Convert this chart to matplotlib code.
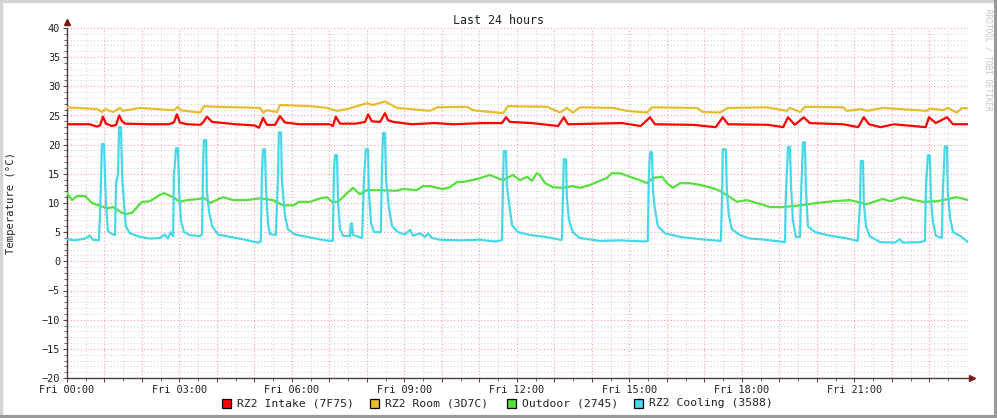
import matplotlib.pyplot as plt
from matplotlib.patches import Rectangle
from matplotlib.lines import Line2D
import numpy as np

# Datos (horas desde Fri 00:00, temperatura en C)
nombres = ['RZ2 Intake (7F75)', 'RZ2 Room (3D7C)', 'Outdoor (2745)', 'RZ2 Cooling (3588)']
colores = ['#ff0000', '#e6bd2a', '#56e03e', '#46d8e8']

intake_t = [0.00, 0.60, 0.80, 0.88, 0.96, 1.04, 1.20, 1.31, 1.39, 1.47, 1.55, 2.20, 2.70, 2.85, 2.93,
            3.01, 3.20, 3.55, 3.63, 3.73, 3.87, 4.50, 5.00, 5.12, 5.23, 5.33, 5.55, 5.68, 5.81, 6.20,
            7.00, 7.09, 7.17, 7.28, 7.70, 7.95, 8.03, 8.13, 8.35, 8.48, 8.56, 8.70, 9.20, 9.80, 10.30,
            11.10, 11.60, 11.71, 11.81, 12.40, 13.10, 13.25, 13.36, 14.80, 15.30, 15.55, 15.68, 16.70,
            17.30, 17.49, 17.63, 18.70, 19.10, 19.23, 19.41, 19.65, 19.81, 20.70, 21.10, 21.25, 21.39,
            21.70, 22.05, 22.90, 22.99, 23.17, 23.47, 23.63, 24.03]
intake_v = [23.5, 23.5, 23.1, 23.3, 24.8, 23.6, 23.2, 23.4, 25.0, 24.0, 23.6, 23.5, 23.5, 23.8, 25.2,
            23.8, 23.5, 23.4, 23.8, 24.8, 23.9, 23.5, 23.3, 22.9, 24.6, 23.4, 23.4, 24.9, 23.8, 23.5,
            23.5, 23.2, 24.8, 23.6, 23.6, 23.9, 25.2, 24.0, 23.9, 25.4, 24.2, 23.9, 23.5, 23.7, 23.5,
            23.7, 23.7, 24.7, 23.9, 23.7, 23.2, 24.7, 23.5, 23.7, 23.2, 24.7, 23.5, 23.4,
            23.0, 24.7, 23.5, 23.4, 23.0, 24.7, 23.4, 24.7, 23.7, 23.5, 23.0, 24.7, 23.5,
            23.0, 23.5, 23.0, 24.7, 23.7, 24.7, 23.5, 23.5]

room_t = [0.00, 0.80, 0.93, 1.01, 1.23, 1.41, 1.49, 1.95, 2.85, 2.96, 3.04, 3.55, 3.65, 4.00, 5.15,
          5.23, 5.33, 5.60, 5.68, 6.50, 6.93, 7.20, 7.47, 8.00, 8.16, 8.48, 8.80, 9.68, 9.87, 10.67,
          10.83, 11.63, 11.76, 12.80, 13.15, 13.33, 13.49, 13.68, 14.56, 14.93, 15.47, 15.60, 16.80,
          16.96, 17.41, 17.63, 18.66, 19.20, 19.28, 19.55, 19.68, 20.70, 20.80, 21.20, 21.33, 21.76,
          22.93, 23.01, 23.36, 23.49, 23.73, 23.87, 24.03]
room_v = [26.4, 26.1, 25.6, 26.1, 25.6, 26.3, 25.8, 26.3, 25.9, 26.5, 25.9, 25.5, 26.6, 26.5, 26.3,
          25.5, 25.9, 25.6, 26.8, 26.6, 26.3, 25.8, 26.1, 27.1, 26.8, 27.4, 26.3, 25.8, 26.4, 26.5,
          25.9, 25.4, 26.6, 26.5, 25.5, 26.3, 25.5, 26.4, 26.3, 25.8, 25.5, 26.4, 26.3,
          25.6, 25.5, 26.3, 26.4, 25.8, 26.3, 25.6, 26.5, 26.4, 25.8, 26.1, 25.8, 26.3,
          25.8, 26.2, 25.9, 26.3, 25.5, 26.3, 26.2]

outdoor_t = [0.00, 0.13, 0.27, 0.48, 0.67, 0.88, 1.07, 1.23, 1.47, 1.55, 1.73, 2.00, 2.21, 2.48, 2.59,
             2.83, 3.01, 3.20, 3.55, 3.63, 3.81, 4.16, 4.43, 4.80, 5.15, 5.49, 5.76, 6.03, 6.19, 6.48,
             6.75, 6.93, 7.07, 7.23, 7.47, 7.63, 7.81, 8.00, 8.35, 8.80, 8.96, 9.33, 9.49, 9.68, 9.87,
             10.03, 10.21, 10.40, 10.56, 10.93, 11.28, 11.47, 11.63, 11.89, 12.08, 12.27, 12.40, 12.53,
             12.61, 12.75, 12.96, 13.23, 13.49, 13.68, 13.95, 14.21, 14.40, 14.53, 14.75, 15.01, 15.20,
             15.47, 15.63, 15.87, 16.00, 16.16, 16.35, 16.61, 16.88, 17.15, 17.41, 17.68, 17.87, 18.13,
             18.40, 18.75, 19.09, 19.55, 20.00, 20.43, 20.88, 21.33, 21.76, 21.95, 22.29, 22.48, 22.83,
             23.20, 23.36, 23.73, 24.03]
outdoor_v = [11.7, 10.5, 11.2, 11.2, 10.0, 9.5, 9.1, 9.3, 8.3, 8.1, 8.3, 10.2, 10.3, 11.4, 11.7,
             11.0, 10.2, 10.5, 10.7, 11.0, 10.0, 11.0, 10.5, 10.5, 10.8, 10.5, 9.6, 9.6, 10.2, 10.2,
             10.8, 11.0, 10.2, 10.2, 11.7, 12.6, 11.5, 12.2, 12.2, 12.1, 12.4, 12.2, 12.9, 12.9, 12.6,
             12.4, 12.7, 13.6, 13.6, 14.1, 14.8, 14.3, 13.9, 14.8, 13.9, 14.5, 13.8, 15.1,
             14.8, 13.4, 12.7, 12.6, 12.9, 12.6, 13.1, 13.8, 14.3, 15.1, 15.1, 14.5, 14.1,
             13.4, 14.3, 14.5, 13.4, 12.6, 13.4, 13.4, 13.1, 12.7, 12.1, 11.0, 10.2, 10.5,
             10.0, 9.3, 9.3, 9.6, 10.0, 10.3, 10.5, 9.8, 10.7, 10.3, 11.0, 10.7, 10.2,
             10.3, 10.5, 11.0, 10.5]

cooling_t = [0.00, 0.21, 0.48, 0.61, 0.69, 0.85, 0.88, 0.91, 0.93, 0.99, 1.01, 1.04, 1.09, 1.20, 1.28,
             1.31, 1.36, 1.39, 1.44, 1.47, 1.52, 1.57, 1.68, 1.95, 2.21, 2.48, 2.61, 2.69, 2.77, 2.83,
             2.85, 2.91, 2.96, 2.99, 3.04, 3.12, 3.28, 3.55, 3.60, 3.63, 3.65, 3.71, 3.73, 3.79, 3.87,
             4.03, 4.35, 4.75, 5.09, 5.17, 5.20, 5.23, 5.28, 5.31, 5.36, 5.41, 5.57, 5.63, 5.65, 5.71,
             5.73, 5.81, 5.89, 6.08, 6.48, 6.88, 7.09, 7.12, 7.15, 7.20, 7.23, 7.28, 7.36, 7.55, 7.57,
             7.60, 7.63, 7.87, 7.92, 7.97, 8.03, 8.05, 8.11, 8.19, 8.37, 8.40, 8.43, 8.48, 8.51, 8.59,
             8.67, 8.83, 9.01, 9.15, 9.23, 9.41, 9.55, 9.63, 9.73, 9.95, 10.48, 11.01, 11.41, 11.60,
             11.63, 11.65, 11.71, 11.73, 11.81, 11.87, 12.03, 12.35, 12.75, 13.15, 13.20, 13.23, 13.25,
             13.31, 13.33, 13.39, 13.49, 13.68, 14.21, 14.75, 15.41, 15.49, 15.52, 15.55, 15.60, 15.63,
             15.68, 15.76, 15.95, 16.35, 16.88, 17.41, 17.44, 17.47, 17.49, 17.57, 17.60, 17.65, 17.73,
             17.95, 18.21, 18.48, 18.88, 19.15, 19.17, 19.23, 19.28, 19.31, 19.36, 19.44, 19.55, 19.57,
             19.63, 19.68, 19.71, 19.76, 19.95, 20.35, 20.75, 21.09, 21.15, 21.17, 21.23, 21.25, 21.31,
             21.41, 21.68, 22.08, 22.21, 22.29, 22.75, 22.88, 22.91, 22.96, 23.01, 23.04, 23.09, 23.17,
             23.33, 23.36, 23.41, 23.47, 23.49, 23.55, 23.63, 23.81, 24.03]
cooling_v = [3.8, 3.6, 3.9, 4.4, 3.7, 3.6, 8.0, 14.5, 20.1, 20.1, 15.0, 10.0, 5.2, 4.7, 4.5,
             13.5, 15.0, 23.0, 23.0, 14.5, 10.0, 6.0, 4.8, 4.2, 3.9, 4.0, 4.6, 3.9, 5.0, 4.3,
             14.5, 19.4, 19.4, 12.0, 7.0, 5.0, 4.5, 4.3, 4.6, 16.5, 20.8, 20.8, 12.0, 8.5, 6.0,
             4.6, 4.2, 3.7, 3.2, 3.4, 15.5, 19.2, 19.2, 12.0, 6.5, 4.7, 4.5, 15.0, 22.1, 22.1,
             14.0, 8.0, 5.5, 4.6, 4.1, 3.6, 3.5, 16.0, 18.2, 18.2, 10.0, 5.5, 4.4, 4.3, 6.5,
             6.5, 4.5, 4.0, 14.0, 19.2, 19.2, 12.0, 6.5, 5.0, 5.0, 16.0, 22.0, 22.0, 14.0, 9.0,
             6.0, 5.0, 4.6, 5.4, 4.4, 4.8, 4.2, 4.8, 4.0, 3.7, 3.6, 3.7, 3.4, 3.6,
             14.0, 18.9, 18.9, 13.0, 9.0, 6.2, 5.0, 4.5, 4.2, 3.7, 3.7, 12.0, 17.5,
             17.5, 11.0, 7.0, 5.0, 4.0, 3.5, 3.6, 3.4, 3.5, 15.0, 18.7, 18.7, 12.0,
             9.0, 6.0, 4.8, 4.2, 3.8, 3.5, 3.5, 11.0, 19.2, 19.2, 12.0, 8.0, 5.5,
             4.5, 3.9, 3.8, 3.5, 3.3, 11.0, 19.6, 19.6, 13.0, 7.0, 4.2, 4.2, 10.0,
             20.4, 20.4, 12.0, 6.0, 5.0, 4.4, 4.0, 3.5, 10.0, 17.2, 17.2, 10.0, 6.0,
             4.3, 3.3, 3.2, 3.8, 3.2, 3.3, 3.5, 13.0, 18.2, 18.2, 11.0, 7.0, 4.4,
             4.0, 12.0, 19.7, 19.7, 12.0, 7.5, 5.0, 4.4, 3.3]

etiquetas_x = ['Fri 00:00', 'Fri 03:00', 'Fri 06:00', 'Fri 09:00',
               'Fri 12:00', 'Fri 15:00', 'Fri 18:00', 'Fri 21:00']

mono = 'DejaVu Sans Mono'
fig = plt.figure(figsize=(9.97, 4.18), dpi=100)
ax = fig.add_axes([67 / 997, 40 / 418, 901 / 997, 350 / 418])

series = [(intake_t, intake_v), (room_t, room_v), (outdoor_t, outdoor_v), (cooling_t, cooling_v)]
for (t, v), c, n in zip(series, colores, nombres):
    ax.plot(t, v, color=c, linewidth=1.6, label=n, zorder=3)

ax.set_xlim(0, 24.03)
ax.set_ylim(-20, 40)

# Rejilla estilo rrdtool: linea roja cada hora, gris cada media hora
horas = np.arange(0, 24)
ax.set_xticks(horas)
ax.set_xticklabels([etiquetas_x[h // 3] if h % 3 == 0 else '' for h in horas])
ax.set_xticks(np.arange(0.5, 24.01, 1), minor=True)
ax.set_yticks(np.arange(-20, 41, 5))
ax.set_yticks(np.arange(-20, 41, 1), minor=True)
ax.grid(which='major', color='#f2a0a0', linestyle=(0, (1, 2)), linewidth=0.8)
ax.grid(which='minor', color='#d6d6d6', linestyle=(0, (1, 2)), linewidth=0.8)
ax.set_axisbelow(True)

for lab in ax.get_xticklabels() + ax.get_yticklabels():
    lab.set_fontfamily(mono)
    lab.set_fontsize(7.4)
    lab.set_color('#222222')
ax.tick_params(which='major', length=3, width=0.8, color='#5a4a4a', pad=2)
ax.tick_params(which='minor', length=2, width=0.6, color='#5a4a4a')

for s in ['top', 'right']:
    ax.spines[s].set_visible(False)
for s in ['left', 'bottom']:
    ax.spines[s].set_color('#4a3c3c')
    ax.spines[s].set_linewidth(1.0)

# Flechas de los ejes
ax.plot([0], [1.017], marker='^', markersize=4, color='#7a1a1a', transform=ax.transAxes, clip_on=False)
ax.plot([1.004], [0], marker='>', markersize=4, color='#7a1a1a', transform=ax.transAxes, clip_on=False)

fig.text(498 / 997, 1 - 20 / 418, 'Last 24 hours', ha='center', va='center',
         fontfamily=mono, fontsize=8.4, color='#222222')
fig.text(11 / 997, 1 - 203 / 418, 'Temperature (°C)', ha='center', va='center', rotation=90,
         fontfamily=mono, fontsize=7.6, color='#222222')
fig.text(988 / 997, 1 - 60 / 418, 'RRDTOOL / TOBI OETIKER', ha='center', va='center', rotation=270,
         fontfamily=mono, fontsize=5.6, color='#c4c4c4')

# Leyenda manual
cuadros_x = [222, 370, 507, 634]
for cx, c, n in zip(cuadros_x, colores, nombres):
    fig.patches.append(Rectangle((cx / 997, 1 - 408 / 418), 9 / 997, 9 / 418, facecolor=c,
                                 edgecolor='black', linewidth=0.9, transform=fig.transFigure))
    fig.text((cx + 15) / 997, 1 - 403 / 418, n, ha='left', va='center',
             fontfamily=mono, fontsize=8.2, color='#222222')

# Marco de la imagen
W, H = 997, 418
marco = [((0.5, 0.5), (0.5, H - 1), '#d4d4d4', 2.5),
         ((0, W), (H - 1, H - 1), '#d4d4d4', 2.5),
         ((0, W), (1.2, 1.2), '#9a9a9a', 3.0),
         ((W - 1.2, W - 1.2), (0, H), '#9a9a9a', 3.0)]
for xs, ys, c, lw in marco:
    fig.lines.append(Line2D([x / W for x in xs], [y / H for y in ys], color=c, linewidth=lw,
                            transform=fig.transFigure))

fig.savefig('out.png', dpi=100, facecolor='white')
